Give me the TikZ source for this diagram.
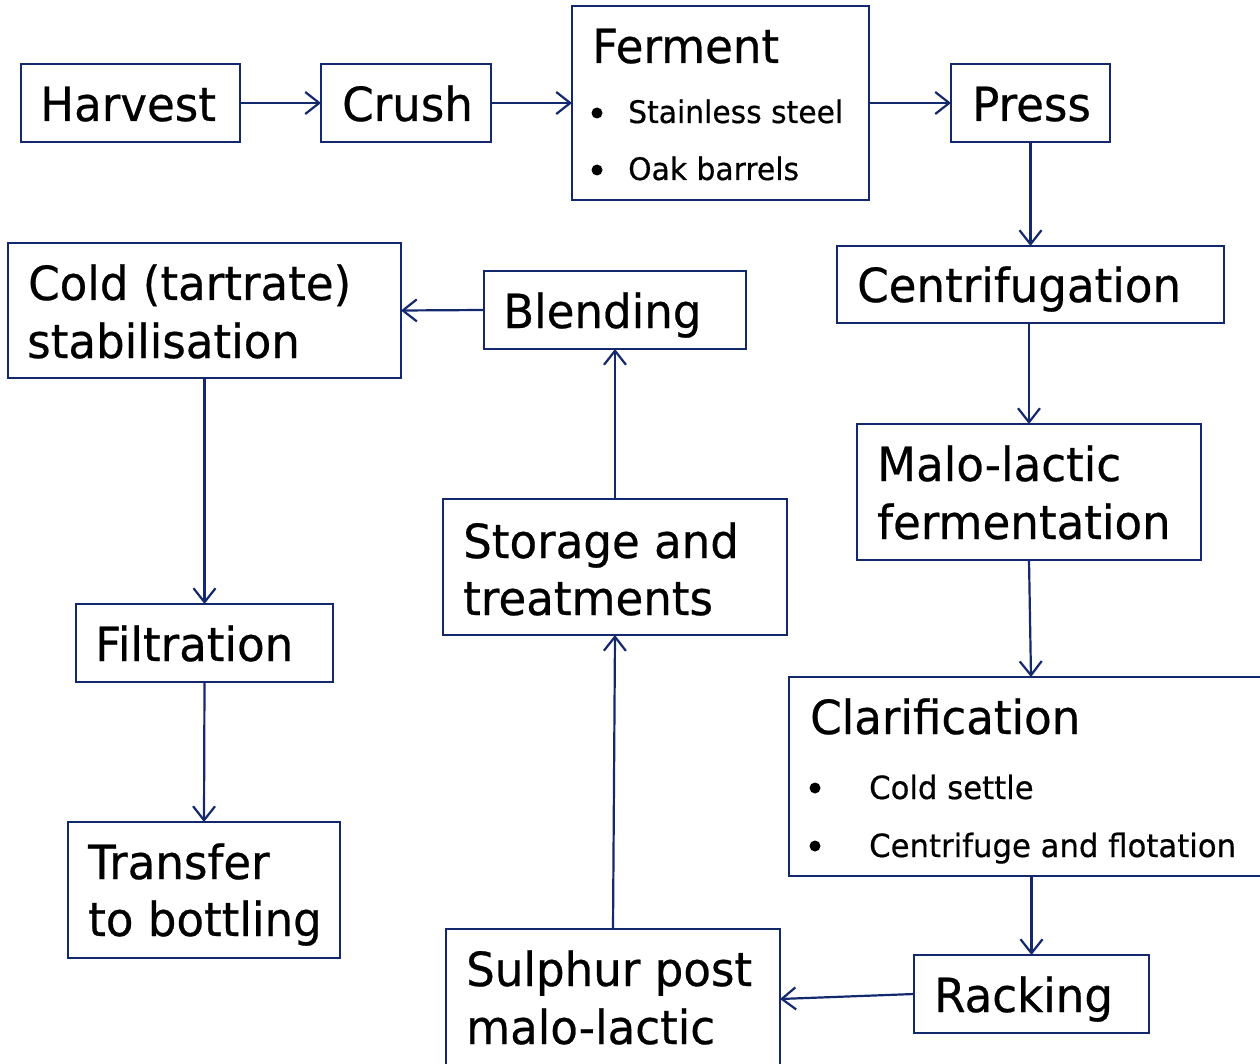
\documentclass[tikz,border=0pt]{standalone}
\usepackage{fontspec}
\setmainfont[FakeStretch=0.96,FakeBold=0.5]{DejaVu Sans}
\usetikzlibrary{arrows.meta}
\definecolor{navy}{RGB}{20,40,110}
\begin{document}
\begin{tikzpicture}[x=1pt,y=-1pt,
  box/.style={draw=navy,line width=2.2pt,anchor=north west,inner sep=0pt,outer sep=0pt},
  big/.style={anchor=base west,inner sep=0pt,font=\fontsize{47}{56}\selectfont},
  small/.style={anchor=base west,inner sep=0pt,font=\fontsize{31}{36}\selectfont},
  smallc/.style={anchor=base west,inner sep=0pt,font=\fontsize{32}{36}\selectfont},
  bul/.style={circle,fill=black,inner sep=0pt,minimum size=11pt},
  flow/.style={draw=navy,line width=2.2pt,-{Straight Barb[length=14pt,width=22pt,line width=2.2pt]}}]
\useasboundingbox (0,0) rectangle (1260,1064);
\fill[white] (0,0) rectangle (1260,1064);
% boxes
\node[box,minimum width=219pt,minimum height=78pt] (harvest) at (21,64) {};
\node[box,minimum width=170pt,minimum height=78pt] (crush) at (321,64) {};
\node[box,minimum width=297pt,minimum height=194pt] (ferment) at (572,6) {};
\node[box,minimum width=159pt,minimum height=78pt] (press) at (951,64) {};
\node[box,minimum width=387pt,minimum height=77pt] (centri) at (837,246) {};
\node[box,minimum width=344pt,minimum height=136pt] (malo) at (857,424) {};
\node[box,minimum width=480pt,minimum height=199pt] (clar) at (789,677) {};
\node[box,minimum width=235pt,minimum height=78pt] (racking) at (914,955) {};
\node[box,minimum width=334pt,minimum height=140pt] (sulphur) at (446,929) {};
\node[box,minimum width=344pt,minimum height=136pt] (storage) at (443,499) {};
\node[box,minimum width=262pt,minimum height=78pt] (blending) at (484,271) {};
\node[box,minimum width=393pt,minimum height=135pt] (cold) at (8,243) {};
\node[box,minimum width=257pt,minimum height=78pt] (filtration) at (76,604) {};
\node[box,minimum width=272pt,minimum height=136pt] (transfer) at (68,822) {};
% texts
\node[big] (tharvest) at (40,121) {Harvest};
\node[big] (tcrush) at (342,121) {Crush};
\node[big] (tferment) at (592,63) {Ferment};
\node[bul] (b1) at (597,113) {};
\node[small] (tss) at (628,123) {Stainless steel};
\node[bul] (b2) at (597,170) {};
\node[small] (toak) at (628,180) {Oak barrels};
\node[big] (tpress) at (972,121) {Press};
\node[big] (tcentri) at (857,302) {Centrifugation};
\node[big] (tmalo1) at (877,481) {Malo-lactic};
\node[big] (tmalo2) at (877,539) {fermentation};
\node[big] (tclar) at (810,734) {Clarification};
\node[bul] (b3) at (815,788) {};
\node[smallc] (tcs) at (869,799) {Cold settle};
\node[bul] (b4) at (815,846) {};
\node[smallc] (tcf) at (869,857) {Centrifuge and flotation};
\node[big] (track) at (934,1012) {Racking};
\node[big] (tsul1) at (466,986) {Sulphur post};
\node[big] (tsul2) at (466,1044) {malo-lactic};
\node[big] (tsto1) at (463,558) {Storage and};
\node[big] (tsto2) at (463,615) {treatments};
\node[big] (tblend) at (503,328) {Blending};
\node[big] (tcold1) at (28,300) {Cold (tartrate)};
\node[big] (tcold2) at (27,358) {stabilisation};
\node[big] (tfilt) at (95,661) {Filtration};
\node[big] (ttr1) at (88,879) {Transfer};
\node[big] (ttr2) at (88,936) {to bottling};
% connectors
\draw[flow] (harvest.east) -- (crush.west);
\draw[flow] (crush.east) -- (ferment.west);
\draw[flow] (ferment.east) -- (press.west);
\draw[flow] (press.south) -- (centri.north);
\draw[flow] (centri.south -| malo.north) -- (malo.north);
\draw[flow] (malo.south) -- ([xshift=2pt]clar.north);
\draw[flow] (clar.south -| racking.north) -- (racking.north);
\draw[flow] (racking.west) -- (sulphur.east);
\draw[flow] (sulphur.north) -- (storage.south);
\draw[flow] (storage.north) -- (blending.south);
\draw[flow] (blending.west) -- (cold.east);
\draw[flow] (cold.south) -- (filtration.north);
\draw[flow] (filtration.south) -- (transfer.north);
\end{tikzpicture}
\end{document}
